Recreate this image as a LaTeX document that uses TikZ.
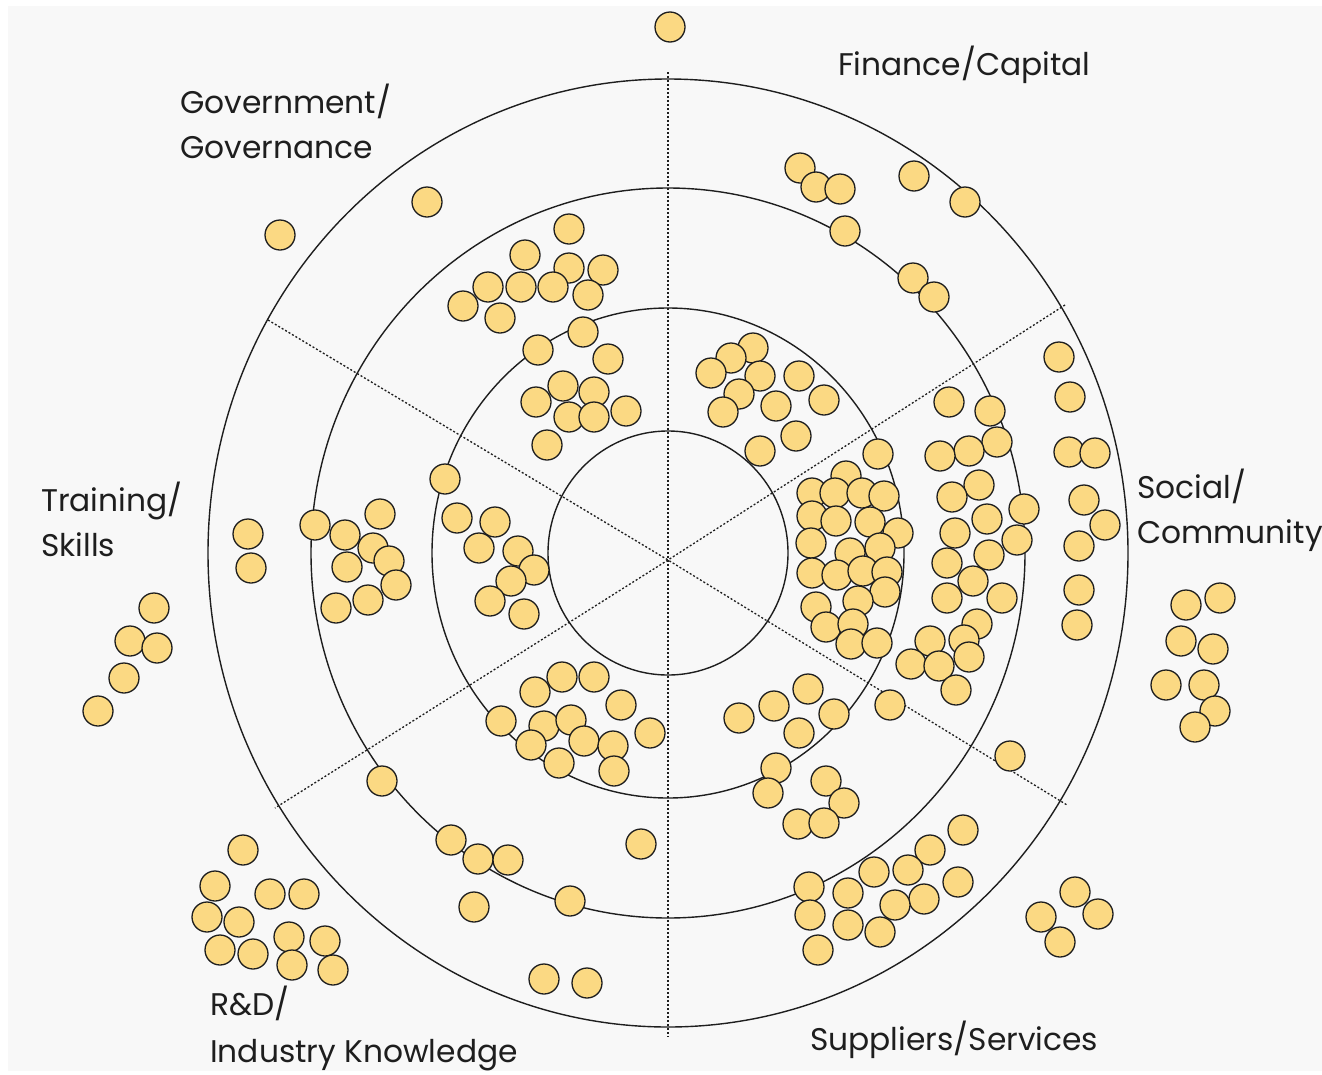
\documentclass[tikz,border=0pt]{standalone}
\usepackage{fontspec}
\setmainfont{Poppins}
\definecolor{bg}{HTML}{F8F8F8}
\definecolor{dotfill}{HTML}{FBD983}
\definecolor{ink}{HTML}{1E1E1E}
\begin{document}
\begin{tikzpicture}[x=1pt,y=-1pt,
  dot/.style={circle,draw=ink,fill=dotfill,line width=1.3pt,minimum size=30pt,inner sep=0pt},
  ring/.style={draw=ink,line width=1.4pt},
  spoke/.style={draw=ink,line width=1.3pt,dash pattern=on 2pt off 2pt},
  lab/.style={anchor=base west,inner sep=0pt,text=ink,font=\fontsize{31.3}{40}\selectfont}]
\useasboundingbox (0,0) rectangle (1322,1074);
\fill[white] (0,0) rectangle (1322,1074);
\fill[bg] (8,6) rectangle (1322,1071);
% rings
\coordinate (c) at (668,553);
\coordinate (s) at (668,560);
\draw[ring] (c) ellipse [x radius=460pt, y radius=474pt];
\draw[ring] (c) ellipse [x radius=357pt, y radius=365pt];
\draw[ring] (c) ellipse [x radius=236pt, y radius=245pt];
\draw[ring] (c) ellipse [x radius=120pt, y radius=122pt];
% spokes
\coordinate (top) at (668,72);
\coordinate (bot) at (668,1037);
\coordinate (ul) at (268,320);
\coordinate (ur) at (1065,305);
\coordinate (lr) at (1067,805);
\coordinate (ll) at (275,808);
\draw[spoke] (top) -- (bot);
\draw[spoke] (ul) -- (s) -- (lr);
\draw[spoke] (ur) -- (s) -- (ll);
% dots
\foreach \px/\py [count=\i] in {
670/27,
280/235, 427/202,
569/229, 525/255, 569/268, 603/270, 488/287, 521/287, 553/287, 588/295, 463/306, 500/318,
538/350, 583/332, 608/359, 563/386, 536/402, 594/392, 569/417, 594/417, 626/411, 547/445,
800/168, 816/187, 840/189, 845/231, 914/176, 965/202, 913/278, 934/297,
753/348, 731/358, 711/373, 760/376, 739/394, 799/376, 824/400, 723/412, 776/406, 796/436, 760/451,
949/402, 990/411, 997/442, 969/451, 940/456, 979/485, 952/497, 1024/509, 987/519, 955/533, 1017/540,
947/563, 989/555, 973/581, 947/598, 1002/598, 977/624, 930/641, 964/640, 969/657, 911/664, 939/666, 956/690, 890/705,
1059/357, 1070/397, 1069/452, 1095/453, 1084/500, 1105/525, 1079/546, 1079/590, 1077/625,
1186/605, 1220/598, 1181/641, 1213/649, 1166/685, 1204/685, 1215/711, 1195/727,
1010/756,
739/718, 774/706, 808/689, 834/714, 799/733, 776/768, 768/793, 826/781, 844/803, 798/824, 824/823,
963/830, 930/850, 908/870, 958/882, 924/899, 895/905, 874/872, 880/932, 809/887, 810/915, 848/893, 848/925, 818/950,
1075/892, 1041/917, 1098/914, 1060/942,
641/844, 570/901, 474/907, 451/840, 478/859, 508/860, 382/781, 544/979, 587/983,
562/677, 594/677, 535/692, 621/705, 650/733, 501/721, 544/726, 571/720, 531/745, 584/741, 613/746, 559/763, 614/771,
243/850, 215/886, 270/894, 304/894, 207/917, 239/922, 220/950, 253/954, 289/937, 325/941, 292/965, 333/970,
248/534, 251/568, 315/525, 345/535, 380/514, 373/548, 389/561, 396/585, 347/567, 368/600, 336/608,
154/608, 130/641, 157/648, 124/678, 98/711,
445/479, 457/518, 495/522, 479/548, 518/551, 534/570, 511/581, 490/601, 524/614,
878/454, 846/476, 812/493, 835/493, 862/493, 884/496, 812/516, 836/521, 870/522, 898/533, 811/543, 880/548, 850/553,
812/573, 837/575, 863/571, 887/572, 885/592, 816/607, 858/601, 826/627, 853/624, 851/644, 877/643}
  \node[dot] (d\i) at (\px,\py) {};
% labels
\node[lab] (fin) at (838,75) {Finance/Capital};
\node[lab] (gov1) at (180,113) {Government/};
\node[lab] (gov2) at (180,158) {Governance};
\node[lab] (tra1) at (41,511) {Training/};
\node[lab] (tra2) at (41,556) {Skills};
\node[lab] (soc1) at (1137,498) {Social/};
\node[lab] (soc2) at (1137,543) {Community};
\node[lab] (rd1) at (210,1015) {R\&D/};
\node[lab] (rd2) at (210,1062) {Industry Knowledge};
\node[lab] (sup) at (810,1050) {Suppliers/Services};
\end{tikzpicture}
\end{document}
